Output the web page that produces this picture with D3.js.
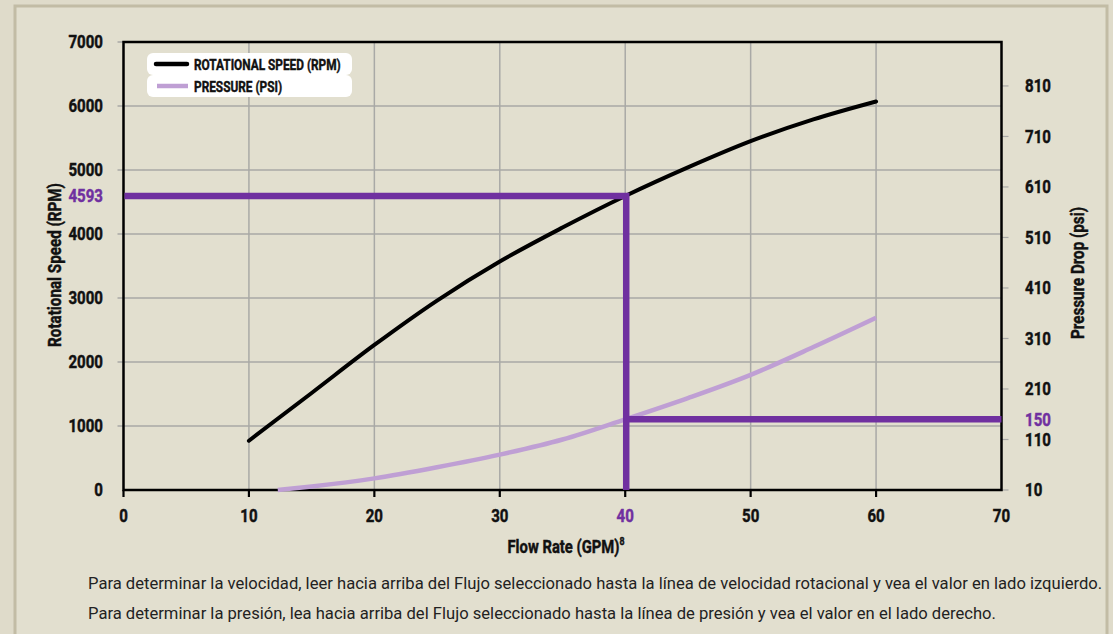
<!DOCTYPE html>
<html>
<head>
<meta charset="utf-8">
<script src="https://cdn.jsdelivr.net/npm/d3@7"></script>
<style>
  html, body { margin: 0; padding: 0; background: #e0dccb; }
  svg { display: block; }
  .cond { font-family: Roboto, 'Liberation Sans', sans-serif; font-weight: bold; stroke-width: 0.45px; }
  .note { font-family: Roboto, 'Noto Sans', sans-serif; font-size: 16.6px; fill: #222; }
</style>
</head>
<body>
<svg id="chart" width="1113" height="634"></svg>
<script>
// ---- data ----
const flowTicks = [0, 10, 20, 30, 40, 50, 60, 70];
const rpmTicks = [0, 1000, 2000, 3000, 4000, 5000, 6000, 7000];
const psiTicks = [10, 110, 210, 310, 410, 510, 610, 710, 810];

const rpmFlow = [10, 15, 20, 25, 30, 35, 40, 45, 50, 55, 60];
const rpmValues = [770, 1516, 2266, 2960, 3570, 4100, 4593, 5040, 5450, 5790, 6070];

const psiFlow = [12.3, 15, 20, 25, 30, 35, 40, 45, 50, 55, 60];
const psiValues = [10, 17, 33, 55, 80, 110, 150, 192, 238, 293, 351];

const selFlow = 40;
const selRpm = 4593;
const selPsi = 150;

const legendLabels = ["ROTATIONAL SPEED (RPM)", "PRESSURE (PSI)"];
const notes = [
  "Para determinar la velocidad, leer hacia arriba del Flujo seleccionado hasta la línea de velocidad rotacional y vea el valor en lado izquierdo.",
  "Para determinar la presión, lea hacia arriba del Flujo seleccionado hasta la línea de presión y vea el valor en el lado derecho."
];

(function () {
// ---- layout ----
const svg = d3.select("#chart");
const W = 1113, H = 634;
const pL = 123.5, pR = 1001.5, pT = 42, pB = 490;
const purple = "#7030a0", lilac = "#bf9fd4", grid = "#a9a9a6", ink = "#111";

const x = d3.scaleLinear().domain([0, 70]).range([pL, pR]);
const yL = d3.scaleLinear().domain([0, 7000]).range([pB, pT]);
const yR = d3.scaleLinear().domain([10, 897]).range([pB, pT]);

// condensed text helper (horizontal squeeze of a bold face)
function ctext(parent, px, py, txt, size, sx, anchor, fill, rot) {
  return parent.append("text").attr("class", "cond")
    .attr("transform", `translate(${px},${py})${rot ? " rotate(" + rot + ")" : ""} scale(${sx},1)`)
    .attr("text-anchor", anchor || "start").attr("font-size", size)
    .attr("fill", fill || ink).attr("stroke", fill || ink)
    .text(txt);
}

// background & frame
svg.append("rect").attr("width", W).attr("height", H).attr("fill", "#dfdbca");
svg.append("rect").attr("x", 15).attr("y", 6).attr("width", 1092).attr("height", 700)
  .attr("fill", "#e2dfcf").attr("stroke", "#c2bca5").attr("stroke-width", 3);

// grid
const g = svg.append("g");
g.selectAll(".vg").data(flowTicks.filter(d => d > 0 && d < 70)).join("line")
  .attr("x1", d => x(d)).attr("x2", d => x(d)).attr("y1", pT).attr("y2", pB)
  .attr("stroke", grid).attr("stroke-width", 1.5);
g.selectAll(".hg").data(rpmTicks.filter(d => d > 0 && d < 7000)).join("line")
  .attr("x1", pL - 6).attr("x2", pR).attr("y1", d => yL(d)).attr("y2", d => yL(d))
  .attr("stroke", grid).attr("stroke-width", 1.5);
g.append("line").attr("x1", pL - 6).attr("x2", pL).attr("y1", yL(7000)).attr("y2", yL(7000))
  .attr("stroke", grid).attr("stroke-width", 1.5);
g.selectAll(".rt").data(psiTicks).join("line")
  .attr("x1", pR).attr("x2", pR + 7).attr("y1", d => yR(d)).attr("y2", d => yR(d))
  .attr("stroke", grid).attr("stroke-width", 1.2);

// plot frame
svg.append("rect").attr("x", pL).attr("y", pT).attr("width", pR - pL).attr("height", pB - pT)
  .attr("fill", "none").attr("stroke", "#000").attr("stroke-width", 2.5);
svg.selectAll(".xt").data(flowTicks.filter(d => d < 70)).join("line")
  .attr("x1", d => x(d)).attr("x2", d => x(d)).attr("y1", pB).attr("y2", pB + 7)
  .attr("stroke", "#000").attr("stroke-width", 2.2);

// series
const lineRpm = d3.line().x(d => x(d[0])).y(d => yL(d[1])).curve(d3.curveMonotoneX);
const linePsi = d3.line().x(d => x(d[0])).y(d => yR(d[1])).curve(d3.curveMonotoneX);

svg.append("path").datum(psiFlow.map((f, i) => [f, psiValues[i]]))
  .attr("d", linePsi).attr("fill", "none").attr("stroke", lilac).attr("stroke-width", 4.5);

svg.append("path").datum(rpmFlow.map((f, i) => [f, rpmValues[i]]))
  .attr("d", lineRpm).attr("fill", "none").attr("stroke", "#000").attr("stroke-width", 4)
  .attr("stroke-linecap", "round");

// selection lines
const sel = svg.append("g").attr("stroke", purple).attr("stroke-width", 6.5).attr("fill", "none");
sel.append("path").attr("d", `M${pL + 1},${yL(selRpm)}H${x(selFlow) + 1}V${pB}`);
sel.append("path").attr("d", `M${x(selFlow) + 1},${yR(selPsi)}H${pR}`);

// legend
const lg = svg.append("g");
legendLabels.forEach((lab, i) => {
  lg.append("rect").attr("x", 147).attr("y", 53 + i * 22).attr("width", 205).attr("height", 22)
    .attr("rx", 6).attr("fill", "#fff");
});
lg.append("line").attr("x1", 156).attr("x2", 187).attr("y1", 64).attr("y2", 64)
  .attr("stroke", "#000").attr("stroke-width", 4.5).attr("stroke-linecap", "round");
lg.append("line").attr("x1", 157).attr("x2", 188).attr("y1", 86).attr("y2", 86)
  .attr("stroke", lilac).attr("stroke-width", 4.5);
legendLabels.forEach((lab, i) => {
  ctext(lg, 194, 69.5 + i * 22, lab, 15, 0.79, "start", ink);
});

// tick labels
const TS = 17.5, TSX = 0.86;
rpmTicks.forEach(d => ctext(svg, 103, yL(d) + 6.3, d, TS, TSX, "end", ink));
ctext(svg, 103, yL(selRpm) + 6.3, selRpm, TS, TSX, "end", purple);

psiTicks.forEach(d => ctext(svg, 1025, yR(d) + 6.3, d, TS, TSX, "start", ink));
ctext(svg, 1025, yR(selPsi) + 6.3, selPsi, TS, TSX, "start", purple);

flowTicks.forEach(d => ctext(svg, x(d), 522, d, TS, TSX, "middle", d === selFlow ? purple : ink));

// axis titles
const xt = ctext(svg, 566, 553, "", 18.5, 0.8, "middle", ink);
xt.append("tspan").text("Flow Rate (GPM)");
xt.append("tspan").attr("font-size", 11).attr("dy", -8).text("8");

ctext(svg, 61, (pT + pB) / 2 - 1, "Rotational Speed (RPM)", 19, 0.8, "middle", ink, -90);
ctext(svg, 1084, (pT + pB) / 2 + 7, "Pressure Drop (psi)", 19, 0.8, "middle", ink, -90);

// notes
notes.forEach((t, i) => {
  svg.append("text").attr("class", "note").attr("x", 88).attr("y", 589 + i * 30).text(t);
});
})();
</script>
</body>
</html>
